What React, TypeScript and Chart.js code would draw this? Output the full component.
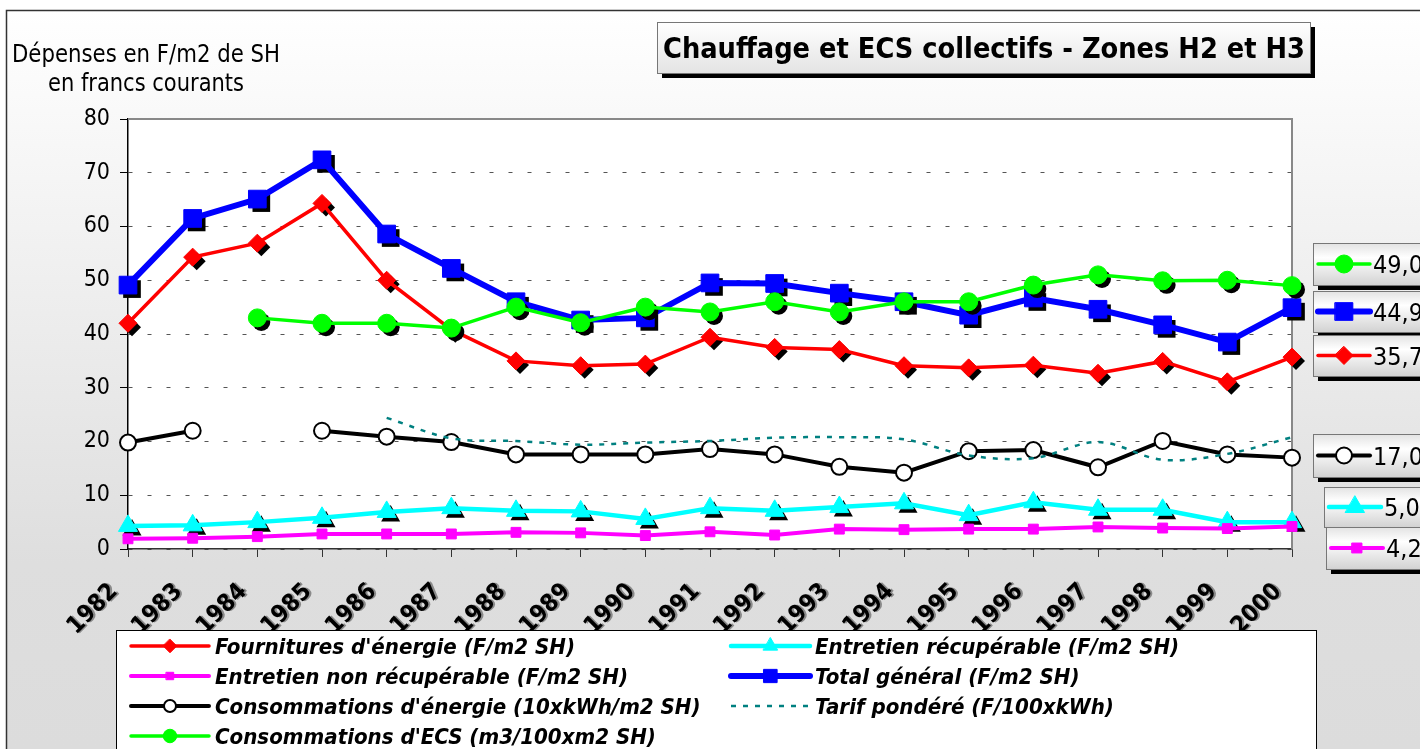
import React, { useEffect, useRef } from 'react';
import { Chart, registerables } from 'chart.js';

Chart.register(...registerables);

const W = 1420;
const H = 749;

const years = ['1982', '1983', '1984', '1985', '1986', '1987', '1988', '1989', '1990', '1991', '1992', '1993', '1994', '1995', '1996', '1997', '1998', '1999', '2000'];
const yTicks = [0, 10, 20, 30, 40, 50, 60, 70, 80];

const fournitures = [42.0, 54.3, 56.9, 64.3, 50.0, 40.8, 35.0, 34.1, 34.4, 39.4, 37.5, 37.1, 34.1, 33.7, 34.2, 32.7, 34.9, 31.1, 35.7];
const entretienRecup = [4.3, 4.4, 5.0, 5.8, 6.9, 7.6, 7.1, 7.0, 5.6, 7.6, 7.1, 7.8, 8.5, 6.3, 8.7, 7.3, 7.3, 5.0, 5.0];
const entretienNonRecup = [1.9, 2.0, 2.3, 2.8, 2.8, 2.8, 3.1, 3.0, 2.5, 3.2, 2.6, 3.7, 3.6, 3.7, 3.7, 4.1, 3.9, 3.8, 4.2];
const totalGeneral = [49.1, 61.5, 65.1, 72.4, 58.6, 52.2, 46.0, 42.6, 43.0, 49.5, 49.4, 47.6, 46.0, 43.5, 46.7, 44.6, 41.7, 38.5, 44.9];
const consoEnergie = [19.8, 22.0, null, 22.0, 20.9, 19.9, 17.6, 17.6, 17.6, 18.6, 17.6, 15.3, 14.2, 18.2, 18.4, 15.2, 20.1, 17.6, 17.0];
const tarifPondere = [null, null, null, null, 24.4, 20.6, 20.1, 19.4, 19.8, 20.1, 20.7, 20.8, 20.4, 17.4, 16.9, 19.9, 16.6, 17.7, 20.8];
const consoECS = [null, null, 43.0, 42.0, 42.0, 41.1, 45.0, 42.1, 45.0, 44.1, 46.0, 44.1, 46.0, 46.0, 49.1, 51.0, 49.9, 50.0, 49.0];

const title = 'Chauffage et ECS collectifs - Zones H2 et H3';
const yTitle1 = 'Dépenses en F/m2 de SH';
const yTitle2 = 'en francs courants';

const labels = [
  "Fournitures d'énergie (F/m2 SH)",
  'Entretien récupérable (F/m2 SH)',
  'Entretien non récupérable (F/m2 SH)',
  'Total général (F/m2 SH)',
  "Consommations d'énergie (10xkWh/m2 SH)",
  'Tarif pondéré (F/100xkWh)',
  "Consommations d'ECS (m3/100xm2 SH)",
];

const COND = '"DejaVu Sans Condensed", "DejaVu Sans", sans-serif';

type Series = {
  data: (number | null)[];
  color: string;
  width: number;
  style: string | false;
  radius: number;
  fill: string;
  border: number;
  shadow: boolean;
  dash?: number[];
  tension?: number;
};

const series: Series[] = [
  { data: fournitures, color: '#ff0000', width: 3.5, style: 'rectRot', radius: 9, fill: '#ff0000', border: 1, shadow: true },
  { data: entretienRecup, color: '#00ffff', width: 4.5, style: 'triangle', radius: 11, fill: '#00ffff', border: 1, shadow: true },
  { data: entretienNonRecup, color: '#ff00ff', width: 4, style: 'rect', radius: 7, fill: '#ff00ff', border: 1, shadow: false },
  { data: totalGeneral, color: '#0000ff', width: 6, style: 'rect', radius: 12.5, fill: '#0000ff', border: 1, shadow: true },
  { data: consoEnergie, color: '#000000', width: 4, style: 'circle', radius: 8, fill: '#ffffff', border: 2, shadow: false },
  { data: tarifPondere, color: '#008080', width: 2.5, style: false, radius: 0, fill: '#008080', border: 0, shadow: false, dash: [5, 7], tension: 0.35 },
  { data: consoECS, color: '#00ff00', width: 3.5, style: 'circle', radius: 9, fill: '#00ff00', border: 1, shadow: true },
];

// value boxes on the right (series index, box x, box y, box h)
const valueBoxes: [number, number, number, number][] = [
  [6, 1313, 243, 42],
  [3, 1313, 291, 41],
  [0, 1313, 335, 41],
  [4, 1313, 434, 43],
  [1, 1324, 487, 40],
  [2, 1326, 527, 42],
];

function marker(ctx: CanvasRenderingContext2D, style: string, x: number, y: number, r: number, fill: string, stroke: string, lw: number) {
  ctx.beginPath();
  if (style === 'rect') {
    const s = r * Math.SQRT1_2;
    ctx.rect(x - s, y - s, 2 * s, 2 * s);
  } else if (style === 'rectRot') {
    ctx.moveTo(x, y - r);
    ctx.lineTo(x + r, y);
    ctx.lineTo(x, y + r);
    ctx.lineTo(x - r, y);
    ctx.closePath();
  } else if (style === 'triangle') {
    ctx.moveTo(x, y - r);
    ctx.lineTo(x + 0.866 * r, y + 0.5 * r);
    ctx.lineTo(x - 0.866 * r, y + 0.5 * r);
    ctx.closePath();
  } else {
    ctx.arc(x, y, r, 0, Math.PI * 2);
  }
  ctx.fillStyle = fill;
  ctx.fill();
  if (lw > 0) {
    ctx.lineWidth = lw;
    ctx.strokeStyle = stroke;
    ctx.stroke();
  }
}

function sample(ctx: CanvasRenderingContext2D, s: Series, x1: number, x2: number, y: number, scale: number) {
  ctx.save();
  ctx.beginPath();
  ctx.moveTo(x1, y);
  ctx.lineTo(x2, y);
  ctx.strokeStyle = s.color;
  ctx.lineWidth = s.width;
  ctx.lineCap = s.dash ? 'butt' : 'round';
  if (s.dash) ctx.setLineDash(s.dash);
  ctx.stroke();
  ctx.setLineDash([]);
  if (s.style) marker(ctx, s.style, (x1 + x2) / 2, y, s.radius * scale, s.fill, s.color, s.border);
  ctx.restore();
}

function fitText(ctx: CanvasRenderingContext2D, text: string, x: number, y: number, width: number, font: string) {
  ctx.font = font;
  const m = ctx.measureText(text).width;
  ctx.save();
  ctx.translate(x, y);
  ctx.scale(width / m, 1);
  ctx.textAlign = 'left';
  ctx.textBaseline = 'alphabetic';
  ctx.fillText(text, 0, 0);
  ctx.restore();
}

const decorPlugin = {
  id: 'decor',
  beforeDraw(chart: any) {
    const ctx: CanvasRenderingContext2D = chart.ctx;
    const a = chart.chartArea;
    ctx.save();
    const g = ctx.createLinearGradient(0, 10, 0, H);
    g.addColorStop(0, '#ffffff');
    g.addColorStop(0.75, '#dedede');
    g.addColorStop(1, '#dcdcdc');
    ctx.fillStyle = g;
    ctx.fillRect(6, 10, W, H);
    ctx.strokeStyle = '#333';
    ctx.lineWidth = 1.5;
    ctx.strokeRect(6.5, 10.5, W + 20, H + 20);

    ctx.fillStyle = '#ffffff';
    ctx.fillRect(a.left, a.top, a.right - a.left, a.bottom - a.top);

    // title box
    const tx = 657, ty = 22, tw = 653, th = 51;
    ctx.fillStyle = '#000';
    ctx.fillRect(tx + 5, ty + 5, tw, th);
    const tg = ctx.createLinearGradient(0, ty, 0, ty + th);
    tg.addColorStop(0, '#ffffff');
    tg.addColorStop(1, '#e4e4e4');
    ctx.fillStyle = tg;
    ctx.fillRect(tx, ty, tw, th);
    ctx.strokeStyle = '#777';
    ctx.lineWidth = 1;
    ctx.strokeRect(tx + 0.5, ty + 0.5, tw, th);
    ctx.fillStyle = '#000';
    fitText(ctx, title, 663, 58, 642, 'bold 29px ' + COND);

    // y axis title
    fitText(ctx, yTitle1, 12, 62, 268, '24px ' + COND);
    fitText(ctx, yTitle2, 48, 91, 196, '24px ' + COND);
    ctx.restore();
  },
  beforeDatasetsDraw(chart: any) {
    const ctx: CanvasRenderingContext2D = chart.ctx;
    const a = chart.chartArea;
    ctx.save();
    ctx.strokeStyle = '#888';
    ctx.lineWidth = 2;
    ctx.beginPath();
    ctx.moveTo(a.left, a.top);
    ctx.lineTo(a.right, a.top);
    ctx.lineTo(a.right, a.bottom);
    ctx.stroke();
    ctx.restore();
  },
  beforeDatasetDraw(chart: any, args: any) {
    const s = series[args.index];
    if (!s || !s.shadow || !s.style) return;
    const ctx: CanvasRenderingContext2D = chart.ctx;
    ctx.save();
    for (const pt of args.meta.data) {
      if (pt.skip) continue;
      marker(ctx, s.style as string, pt.x + 4, pt.y + 4, s.radius, '#000', '#000', 0);
    }
    ctx.restore();
  },
  afterDraw(chart: any) {
    const ctx: CanvasRenderingContext2D = chart.ctx;
    const xs = chart.scales.x;
    ctx.save();
    // x labels
    ctx.font = 'bold 24px ' + COND;
    ctx.textAlign = 'right';
    ctx.textBaseline = 'middle';
    years.forEach((yr, i) => {
      const x = xs.getPixelForValue(i);
      ctx.save();
      ctx.translate(x - 14, 588);
      ctx.rotate(-Math.PI / 4);
      ctx.fillStyle = '#8a8a8a';
      ctx.fillText(yr, 1.5, 1.5);
      ctx.fillStyle = '#000';
      ctx.fillText(yr, 0, 0);
      ctx.restore();
    });

    // value boxes
    for (const [idx, bx, by, bh] of valueBoxes) {
      const s = series[idx];
      const bw = 160;
      ctx.fillStyle = '#000';
      ctx.fillRect(bx + 5, by + 5, bw, bh);
      const gg = ctx.createLinearGradient(0, by, 0, by + bh);
      gg.addColorStop(0, '#e2e2e2');
      gg.addColorStop(0.35, '#ffffff');
      gg.addColorStop(1, '#d2d2d2');
      ctx.fillStyle = gg;
      ctx.fillRect(bx, by, bw, bh);
      ctx.strokeStyle = '#777';
      ctx.lineWidth = 1;
      ctx.strokeRect(bx + 0.5, by + 0.5, bw, bh);
      const cy = by + bh / 2;
      sample(ctx, s, bx + 5, bx + 57, cy, 1);
      const v = s.data[s.data.length - 1] as number;
      ctx.fillStyle = '#000';
      ctx.font = '25px ' + COND;
      ctx.textAlign = 'left';
      ctx.textBaseline = 'alphabetic';
      ctx.fillText(v.toFixed(1).replace('.', ','), bx + 60, cy + 9);
    }

    // legend
    const lx = 116, ly = 630;
    ctx.fillStyle = '#fff';
    ctx.fillRect(lx, ly, 1200, 140);
    ctx.strokeStyle = '#000';
    ctx.lineWidth = 1;
    ctx.strokeRect(lx + 0.5, ly + 0.5, 1200, 140);
    const lfont = 'italic bold 21px ' + COND;
    ctx.font = lfont;
    const sx = 360 / ctx.measureText(labels[0]).width;
    const rows = [646, 676, 706, 736];
    labels.forEach((lab, i) => {
      const col = i % 2;
      const row = Math.floor(i / 2);
      const y = rows[row];
      const x1 = col === 0 ? 131 : 731;
      const x2 = col === 0 ? 209 : 810;
      const tx = col === 0 ? 215 : 815;
      sample(ctx, series[i], x1, x2, y, 0.75);
      ctx.save();
      ctx.fillStyle = '#000';
      ctx.font = lfont;
      ctx.textAlign = 'left';
      ctx.textBaseline = 'alphabetic';
      ctx.translate(tx, y + 8);
      ctx.scale(sx, 1);
      ctx.fillText(lab, 0, 0);
      ctx.restore();
    });
    ctx.restore();
  },
};

export default function App() {
  const ref = useRef<HTMLCanvasElement>(null);
  useEffect(() => {
    const canvas = ref.current;
    if (!canvas) return;
    const datasets = series.map((s, i) => ({
      label: labels[i],
      data: s.data,
      borderColor: s.color,
      backgroundColor: s.fill,
      borderWidth: s.width,
      borderDash: s.dash || [],
      tension: s.tension || 0,
      pointStyle: s.style || 'circle',
      pointRadius: s.style ? s.radius : 0,
      pointBackgroundColor: s.fill,
      pointBorderColor: s.color,
      pointBorderWidth: s.border,
      spanGaps: false,
      clip: false as any,
      order: series.length - i,
      fill: false,
    }));
    const chart = new Chart(canvas, {
      type: 'line',
      data: { labels: years, datasets },
      options: {
        responsive: false,
        animation: false,
        devicePixelRatio: 1,
        events: [],
        layout: { padding: { left: 0, right: 128, top: 119, bottom: 120 } },
        plugins: { legend: { display: false }, tooltip: { enabled: false }, title: { display: false } },
        scales: {
          x: {
            type: 'category',
            offset: false,
            ticks: { display: false },
            grid: { display: true, drawOnChartArea: false, drawTicks: true, tickLength: 8, tickColor: '#333', tickWidth: 1 },
            border: { display: true, color: '#333', width: 1.5 },
            afterFit: (s: any) => { s.height = 80; },
          },
          y: {
            min: 0,
            max: 80,
            afterBuildTicks: (s: any) => { s.ticks = yTicks.map((v) => ({ value: v })); },
            ticks: { color: '#000', padding: 10, font: { family: COND, size: 23 } },
            grid: { color: '#555', lineWidth: 1, drawTicks: true, tickLength: 8, tickColor: '#000', tickWidth: 1 },
            border: { display: true, color: '#000', width: 1.5, dash: [4, 15] },
            afterFit: (s: any) => { s.width = 128; },
          },
        },
      },
      plugins: [decorPlugin],
    } as any);
    return () => chart.destroy();
  }, []);
  return (
    <div style={{ position: 'fixed', left: 0, top: 0, width: W, height: H, background: '#fff' }}>
      <canvas ref={ref} width={W} height={H} style={{ width: W, height: H, display: 'block' }} />
    </div>
  );
}
